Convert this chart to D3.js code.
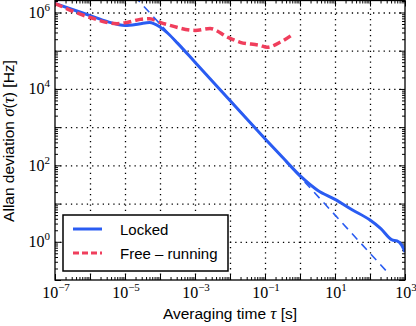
<!DOCTYPE html>
<html>
<head>
<meta charset="utf-8">
<script src="https://cdn.jsdelivr.net/npm/d3@7"></script>
<style>
  body { margin: 0; background: #fff; }
  svg { display: block; }
  .grid line { stroke: #000; stroke-width: 1.3; stroke-dasharray: 1.3,4; }
  .grid .domain { display: none; }
  .ticks line { stroke: #000; stroke-width: 1; }
  .ticks .domain { display: none; }
  .ticks text { display: none; }
</style>
</head>
<body>
<div id="chart"></div>
<script>
// Locked laser
const lockedTau = [1e-7, 3.16e-7, 1e-6, 3.16e-6, 1e-5, 2.51e-5, 5.01e-5, 1e-4, 1.7e-4, 3.16e-4,
                   1e-3, 1e-2, 1e-1, 0.316, 1, 3.16, 10, 31.6, 100, 200, 427, 589, 794, 1000];
const lockedSigma = [1.72e6, 1.2e6, 8.3e5, 5.75e5, 4.57e5, 5.0e5, 5.5e5, 4.17e5, 2.82e5, 1.58e5,
                     5.0e4, 5.0e3, 500, 162, 53.7, 22.4, 12.9, 6.8, 3.7, 2.24, 1.12, 1.05, 0.83, 0.54];

// Free-running laser
const freeTau = [1e-7, 1e-6, 5.9e-6, 1.15e-5, 2.7e-5, 5.1e-5, 1e-4, 1.95e-4, 1e-3, 2.7e-3,
                 8.7e-3, 1.95e-2, 7.2e-2, 0.115, 0.27, 0.63];
const freeSigma = [1.72e6, 7.4e5, 5.1e5, 5.5e5, 6.6e5, 6.9e5, 5.5e5, 4.6e5, 3.4e5, 3.8e5,
                   2.24e5, 1.66e5, 1.38e5, 1.23e5, 1.66e5, 2.7e5];

// 1/tau guide line (end points)
const refTau = [1e-5, 320];
const refSigma = [5.0e6, 0.157];

const xLabelExps = [-7, -5, -3, -1, 1, 3];
const yLabelExps = [0, 2, 4, 6];
const legendNames = ['Locked', 'Free \u2013 running'];

const W = 416, H = 326;
const pLeft = 55, pRight = 405, pTop = 0.5, pBottom = 280;
const blue = '#2a5cf2', red = '#f03e5c';

const svg = d3.select('#chart').append('svg')
    .attr('width', W)
    .attr('height', H);

const x = d3.scaleLog().domain([1e-7, 1e3]).range([pLeft, pRight]);
const y = d3.scaleLog().domain([1e-1, 2.06e6]).range([pBottom, pTop]);

const xMajor = d3.range(-7, 4).map(e => Math.pow(10, e));
const yMajor = d3.range(-1, 7).map(e => Math.pow(10, e));
const minorOf = (lo, hi, dom) => {
    let out = [];
    for (let e = lo; e <= hi; e++)
        for (let m = 2; m <= 9; m++) {
            let v = m * Math.pow(10, e);
            if (v > dom[0] && v < dom[1]) out.push(v);
        }
    return out;
};
const xMinor = minorOf(-7, 2, x.domain());
const yMinor = minorOf(-1, 6, y.domain());

// grid
svg.append('g').attr('class', 'grid')
    .attr('transform', `translate(0,${pBottom})`)
    .call(d3.axisBottom(x).tickValues(xMajor.slice(1, -1)).tickSize(-(pBottom - pTop)).tickFormat(''));
svg.append('g').attr('class', 'grid')
    .attr('transform', `translate(${pLeft},0)`)
    .call(d3.axisLeft(y).tickValues(yMajor.slice(1)).tickSize(-(pRight - pLeft)).tickFormat(''));

// ticks on all four sides, pointing inward
function tickSet(axisFn, scale, vals, size, tr) {
    svg.append('g').attr('class', 'ticks')
        .attr('transform', tr)
        .call(axisFn(scale).tickValues(vals).tickSize(size).tickFormat(''));
}
tickSet(d3.axisBottom, x, xMajor, -6, `translate(0,${pBottom})`);
tickSet(d3.axisBottom, x, xMinor, -3, `translate(0,${pBottom})`);
tickSet(d3.axisTop, x, xMajor, -6, `translate(0,${pTop})`);
tickSet(d3.axisTop, x, xMinor, -3, `translate(0,${pTop})`);
tickSet(d3.axisLeft, y, yMajor, -6, `translate(${pLeft},0)`);
tickSet(d3.axisLeft, y, yMinor, -3, `translate(${pLeft},0)`);
tickSet(d3.axisRight, y, yMajor, -6, `translate(${pRight},0)`);
tickSet(d3.axisRight, y, yMinor, -3, `translate(${pRight},0)`);

// curves
svg.append('clipPath').attr('id', 'clip')
    .append('rect').attr('x', pLeft).attr('y', pTop).attr('width', pRight - pLeft).attr('height', pBottom - pTop);

const line = d3.line()
    .x(d => x(d[0]))
    .y(d => y(d[1]))
    .curve(d3.curveMonotoneX);

const plot = svg.append('g').attr('clip-path', 'url(#clip)');

plot.append('path')
    .datum(d3.zip(lockedTau, lockedSigma))
    .attr('d', line)
    .attr('fill', 'none')
    .attr('stroke', blue)
    .attr('stroke-width', 3);

plot.append('path')
    .datum(d3.zip(freeTau, freeSigma))
    .attr('d', line)
    .attr('fill', 'none')
    .attr('stroke', red)
    .attr('stroke-width', 3.5)
    .attr('stroke-dasharray', '8,4');

plot.append('path')
    .datum(d3.zip(refTau, refSigma))
    .attr('d', line)
    .attr('fill', 'none')
    .attr('stroke', blue)
    .attr('stroke-width', 1.6)
    .attr('stroke-dasharray', '8,6');

// frame
svg.append('rect')
    .attr('x', pLeft).attr('y', pTop)
    .attr('width', pRight - pLeft).attr('height', pBottom - pTop)
    .attr('fill', 'none')
    .attr('stroke', '#000')
    .attr('stroke-width', 1.3);

// tick labels
function powLabel(g, exp) {
    g.append('tspan').text('10');
    g.append('tspan')
        .attr('dy', -7)
        .attr('font-size', 11)
        .text(exp < 0 ? '\u2212' + (-exp) : exp);
}
xLabelExps.forEach(e => {
    let t = svg.append('text')
        .attr('x', x(Math.pow(10, e)) + 1)
        .attr('y', 298)
        .attr('text-anchor', 'middle')
        .attr('font-family', 'Liberation Serif, serif')
        .attr('font-size', 16);
    powLabel(t, e);
});
yLabelExps.forEach(e => {
    let t = svg.append('text')
        .attr('x', 50)
        .attr('y', y(Math.pow(10, e)) + 5.5)
        .attr('text-anchor', 'end')
        .attr('font-family', 'Liberation Serif, serif')
        .attr('font-size', 16);
    powLabel(t, e);
});

// axis titles
const xt = svg.append('text')
    .attr('x', (pLeft + pRight) / 2)
    .attr('y', 319)
    .attr('text-anchor', 'middle')
    .attr('font-family', 'Liberation Sans, sans-serif')
    .attr('font-size', 15.5);
xt.append('tspan').text('Averaging time ');
xt.append('tspan').attr('font-style', 'italic').attr('font-family', 'Liberation Serif, serif').attr('font-size', 17).text('\u03c4');
xt.append('tspan').text(' [s]');

const yt = svg.append('text')
    .attr('transform', 'translate(14,141) rotate(-90)')
    .attr('text-anchor', 'middle')
    .attr('font-family', 'Liberation Sans, sans-serif')
    .attr('font-size', 15.5);
yt.append('tspan').text('Allan deviation ');
yt.append('tspan').attr('font-style', 'italic').attr('font-family', 'Liberation Serif, serif').attr('font-size', 17).text('\u03c3');
yt.append('tspan').text('(');
yt.append('tspan').attr('font-style', 'italic').attr('font-family', 'Liberation Serif, serif').attr('font-size', 17).text('\u03c4');
yt.append('tspan').text(') [Hz]');

// legend
const legend = svg.append('g');
legend.append('rect')
    .attr('x', 63).attr('y', 215)
    .attr('width', 165).attr('height', 56)
    .attr('fill', '#fff')
    .attr('stroke', '#000')
    .attr('stroke-width', 1.5);
const legendStyles = [
    { color: blue, dash: null, w: 3 },
    { color: red, dash: '6,3', w: 3 }
];
legendNames.forEach((name, i) => {
    let yy = 229 + i * 24;
    legend.append('line')
        .attr('x1', 73).attr('x2', 102)
        .attr('y1', yy).attr('y2', yy)
        .attr('stroke', legendStyles[i].color)
        .attr('stroke-width', legendStyles[i].w)
        .attr('stroke-dasharray', legendStyles[i].dash);
    legend.append('text')
        .attr('x', 120)
        .attr('y', yy + 6)
        .attr('font-family', 'Liberation Sans, sans-serif')
        .attr('font-size', 15)
        .text(name);
});
</script>
</body>
</html>
